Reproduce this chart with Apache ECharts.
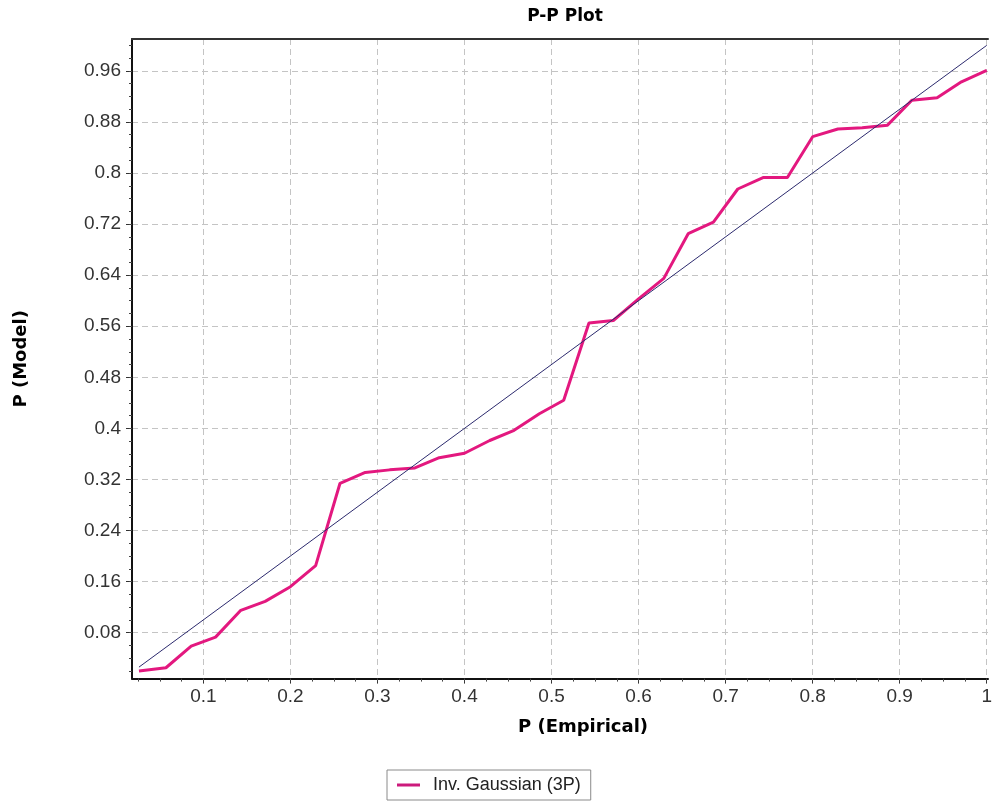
<!DOCTYPE html>
<html>
<head>
<meta charset="utf-8">
<script src="https://cdn.jsdelivr.net/npm/echarts@6/dist/echarts.min.js"></script>
<style>
html,body{margin:0;padding:0;background:#fff;}
#chart{width:995px;height:803px;}
</style>
</head>
<body>
<div id="chart"></div>
<script>
// Empirical probabilities (x) and model probabilities (y)
const empirical = [0.026, 0.057, 0.086, 0.114, 0.143, 0.171, 0.2, 0.229, 0.257, 0.286,
  0.314, 0.343, 0.371, 0.4, 0.429, 0.457, 0.486, 0.514, 0.543, 0.571,
  0.6, 0.629, 0.657, 0.686, 0.714, 0.743, 0.771, 0.8, 0.829, 0.857,
  0.886, 0.914, 0.943, 0.971, 1.0];
const model = [0.020, 0.025, 0.059, 0.073, 0.115, 0.129, 0.152, 0.185, 0.314, 0.331,
  0.335, 0.338, 0.354, 0.361, 0.381, 0.397, 0.423, 0.444, 0.565, 0.569,
  0.603, 0.635, 0.705, 0.723, 0.775, 0.793, 0.793, 0.857, 0.869, 0.871,
  0.875, 0.914, 0.918, 0.943, 0.961];
// Reference diagonal (y = x)
const diagonal = [0.026, 1.0];
// Tick labels
const xTicks = [0.1, 0.2, 0.3, 0.4, 0.5, 0.6, 0.7, 0.8, 0.9, 1.0];
const yTicks = [0.08, 0.16, 0.24, 0.32, 0.4, 0.48, 0.56, 0.64, 0.72, 0.8, 0.88, 0.96];
const xRange = [0.018, 1.0015];
const yRange = [0.008, 1.010];
const seriesName = 'Inv. Gaussian (3P)';

const xMinor = [];
for (let i = 1; i <= 40; i++) xMinor.push(Math.round(i * 25) / 1000);
const yMinor = [];
for (let i = 1; i <= 50; i++) yMinor.push(Math.round(i * 20) / 1000);

const fmt = v => String(parseFloat(Number(v).toFixed(3)));
const bold = 'DejaVu Sans';
const plain = 'Liberation Sans';

const chart = echarts.init(document.getElementById('chart'), null, {renderer: 'canvas'});
chart.setOption({
  animation: false,
  backgroundColor: '#fff',
  title: {
    text: 'P-P Plot',
    left: 560, top: 3, textAlign: 'center',
    textStyle: {fontFamily: bold, fontWeight: 'bold', fontSize: 17, color: '#000'}
  },
  legend: {
    data: [seriesName],
    left: 387, top: 770,
    borderColor: '#8a8a8a', borderWidth: 1, padding: [6, 10, 6, 10],
    icon: 'rect', itemWidth: 23, itemHeight: 3,
    textStyle: {fontFamily: plain, fontSize: 18, color: '#222', padding: [0, 0, 0, 8]}
  },
  grid: {
    left: 132, right: 1.5, top: 39, bottom: 124.4,
    show: false
  },
  xAxis: [{
    type: 'value', min: xRange[0], max: xRange[1], position: 'bottom',
    name: 'P (Empirical)', nameLocation: 'middle', nameGap: 40,
    nameTextStyle: {fontFamily: bold, fontWeight: 'bold', fontSize: 18, color: '#000', padding: [0, 0, 0, 46]},
    axisLine: {show: true, lineStyle: {color: '#111', width: 2}},
    axisTick: {show: true, customValues: xTicks, length: 5, lineStyle: {color: '#333'}},
    axisLabel: {customValues: xTicks, formatter: fmt, margin: 9,
      fontFamily: plain, fontSize: 19, color: '#333'},
    splitLine: {show: true, lineStyle: {color: '#c4c4c4', type: [6, 4], width: 1}}
  }, {
    type: 'value', min: xRange[0], max: xRange[1], position: 'bottom',
    axisLine: {show: false},
    axisTick: {show: true, customValues: xMinor, length: 3, lineStyle: {color: '#444'}},
    axisLabel: {show: false},
    splitLine: {show: false}
  }, {
    type: 'value', min: xRange[0], max: xRange[1], position: 'top',
    axisLine: {show: true, lineStyle: {color: '#333', width: 2}},
    axisTick: {show: false},
    axisLabel: {show: false},
    splitLine: {show: false}
  }],
  yAxis: [{
    type: 'value', min: yRange[0], max: yRange[1], position: 'left',
    name: 'P (Model)', nameLocation: 'middle', nameGap: 102, nameRotate: 90,
    nameTextStyle: {fontFamily: bold, fontWeight: 'bold', fontSize: 18, color: '#000'},
    axisLine: {show: true, lineStyle: {color: '#111', width: 2}},
    axisTick: {show: true, customValues: yTicks, length: 6, lineStyle: {color: '#333'}},
    axisLabel: {customValues: yTicks, formatter: fmt, margin: 11,
      fontFamily: plain, fontSize: 19, color: '#333'},
    splitLine: {show: true, lineStyle: {color: '#c4c4c4', type: [6, 4], width: 1}}
  }, {
    type: 'value', min: yRange[0], max: yRange[1], position: 'left',
    axisLine: {show: false},
    axisTick: {show: true, customValues: yMinor, length: 3, lineStyle: {color: '#444'}},
    axisLabel: {show: false},
    splitLine: {show: false}
  }],
  series: [{
    name: 'diagonal', type: 'line', xAxisIndex: 0, yAxisIndex: 0,
    symbol: 'none', silent: true,
    lineStyle: {color: '#2c2a6e', width: 1},
    data: [[diagonal[0], diagonal[0]], [diagonal[1], diagonal[1]]],
    z: 3
  }, {
    name: seriesName, type: 'line', xAxisIndex: 0, yAxisIndex: 0,
    symbol: 'none',
    lineStyle: {color: '#e3187f', width: 3},
    itemStyle: {color: '#cc1a7c'},
    data: empirical.map((x, i) => [x, model[i]]),
    z: 2
  }]
});
</script>
</body>
</html>
